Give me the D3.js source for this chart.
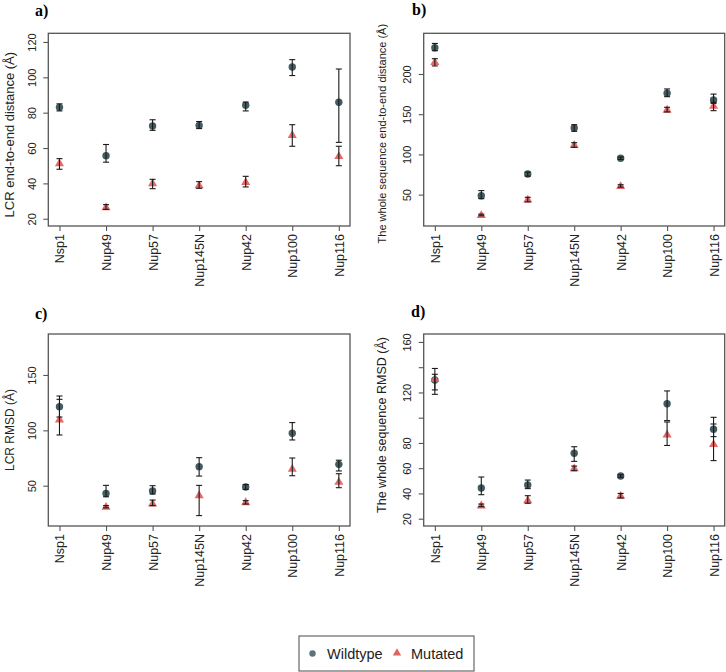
<!DOCTYPE html>
<html>
<head>
<meta charset="utf-8">
<script src="https://cdn.jsdelivr.net/npm/d3@7"></script>
<style>
  html, body { margin: 0; padding: 0; background: #fff; }
  svg { display: block; }
</style>
</head>
<body>
<svg id="chart" width="726" height="672"></svg>
<script>
const categories = ["Nsp1", "Nup49", "Nup57", "Nup145N", "Nup42", "Nup100", "Nup116"];

// Panel a) LCR end-to-end distance
const aWildMean = [83, 55.7, 72.5, 72.8, 84.2, 105.8, 85.9];
const aWildLow  = [81, 52, 70, 71, 81, 101, 63.2];
const aWildHigh = [85, 62, 76, 75, 86, 110, 104.7];
const aMutMean  = [51.5, 26.6, 40.2, 39, 40.8, 67.5, 55.5];
const aMutLow   = [48, 25.3, 37, 37.2, 38, 61, 50];
const aMutHigh  = [54, 28, 42.3, 41, 44, 73.2, 61];
const aTicks = [20, 40, 60, 80, 100, 120];

// Panel b) whole sequence end-to-end distance
const bWildMean = [232.7, 48.7, 75.7, 132.9, 95.2, 176, 167.7];
const bWildLow  = [229, 45, 73, 128.7, 93.7, 171.8, 163.5];
const bWildHigh = [238, 55, 78, 137, 96.7, 181.4, 175];
const bMutMean  = [215, 24.7, 44, 112, 60.8, 155.7, 160.6];
const bMutLow   = [210, 23.7, 41, 108.8, 59.3, 152.8, 154.4];
const bMutHigh  = [219, 25.7, 46.7, 114.6, 62.3, 158.6, 164.8];
const bTicks = [50, 100, 150, 200];

// Panel c) LCR RMSD
const cWildMean = [121.4, 43, 45.2, 67.2, 48.8, 97.3, 69.3];
const cWildLow  = [112, 40, 42.5, 58.7, 46.7, 91.3, 63.3];
const cWildHigh = [131, 50.3, 50, 75.3, 51, 107, 73];
const cMutMean  = [110, 31, 34, 41.6, 35.2, 65.4, 53.6];
const cMutLow   = [95.8, 30, 32, 23, 33.4, 59, 48.2];
const cMutHigh  = [128, 32, 37, 50.3, 36.5, 75, 60.8];
const cTicks = [50, 100, 150];

// Panel d) whole sequence RMSD
const dWildMean = [129.9, 44.3, 46.7, 71.8, 53.8, 111.1, 90.8];
const dWildLow  = [118.5, 39, 43.8, 65.4, 52.8, 97.7, 85];
const dWildHigh = [139, 53, 50.6, 77, 54.8, 121.2, 100.3];
const dMutMean  = [130.7, 30.6, 34.8, 60, 38.2, 86.8, 79.2];
const dMutLow   = [122, 29.5, 32.2, 58, 36.4, 78, 66];
const dMutHigh  = [134.4, 31.6, 38.2, 61.7, 40, 96.6, 95];
const dTicks = [20, 40, 60, 80, 100, 120, 140, 160];
const dTickLabels = [20, 40, 60, 80, 120, 160];

const seriesNames = ["Wildtype", "Mutated"];

const WILD_COLOR = "#3a5356";
const MUT_COLOR = "#e06262";
const AXIS_COLOR = "#555";

const svg = d3.select("#chart");

const panels = [
  { label: "a)", title: "LCR end-to-end distance (Å)", titleSize: 13,
    box: {x0: 48.3, x1: 350, y0: 33.3, y1: 226}, domain: [15.9, 124.9],
    ticks: aTicks, tickLabels: aTicks, labelPos: [35, 16], titleX: 14, titleDy: 5,
    wild: [aWildMean, aWildLow, aWildHigh], mut: [aMutMean, aMutLow, aMutHigh] },
  { label: "b)", title: "The whole sequence end-to-end distance (Å)", titleSize: 11,
    box: {x0: 423.7, x1: 724.7, y0: 33.3, y1: 226}, domain: [11, 250.6],
    ticks: bTicks, tickLabels: bTicks, labelPos: [412, 15], titleX: 386, titleDy: 4,
    wild: [bWildMean, bWildLow, bWildHigh], mut: [bMutMean, bMutLow, bMutHigh] },
  { label: "c)", title: "LCR RMSD (Å)", titleSize: 12,
    box: {x0: 48.3, x1: 350, y0: 334, y1: 526}, domain: [13.6, 187],
    ticks: cTicks, tickLabels: cTicks, labelPos: [35, 319], titleX: 14, titleDy: 0,
    wild: [cWildMean, cWildLow, cWildHigh], mut: [cMutMean, cMutLow, cMutHigh] },
  { label: "d)", title: "The whole sequence RMSD (Å)", titleSize: 12.5,
    box: {x0: 423.7, x1: 724.7, y0: 334, y1: 526}, domain: [14.2, 166.3],
    ticks: dTicks, tickLabels: dTickLabels, labelPos: [411, 317], titleX: 386, titleDy: -5,
    wild: [dWildMean, dWildLow, dWildHigh], mut: [dMutMean, dMutLow, dMutHigh] }
];

const triangle = d3.symbol().type(d3.symbolTriangle).size(36);

panels.forEach(p => {
  const b = p.box;
  // emulate R's 4% extension on x
  const xi = d3.scaleLinear().domain([-0.24, categories.length - 1 + 0.24]).range([b.x0, b.x1]);
  const xpos = c => xi(categories.indexOf(c));
  const y = d3.scaleLinear().domain(p.domain).range([b.y1, b.y0]);

  const g = svg.append("g");

  // panel label
  g.append("text")
    .attr("x", p.labelPos[0]).attr("y", p.labelPos[1])
    .attr("font-family", "Liberation Serif, Times New Roman, serif")
    .attr("font-weight", "bold").attr("font-size", 16)
    .text(p.label);

  // box
  g.append("rect")
    .attr("x", b.x0).attr("y", b.y0)
    .attr("width", b.x1 - b.x0).attr("height", b.y1 - b.y0)
    .attr("fill", "none").attr("stroke", AXIS_COLOR).attr("stroke-width", 1.3);

  // y axis
  const yAxis = d3.axisLeft(y).tickValues(p.ticks).tickSize(5).tickSizeOuter(0)
    .tickFormat(d => p.tickLabels.includes(d) ? d : "");
  const ya = g.append("g").attr("transform", `translate(${b.x0},0)`).call(yAxis);
  ya.select(".domain").remove();
  ya.selectAll(".tick line").attr("stroke", AXIS_COLOR).attr("stroke-width", 1.1);
  ya.selectAll(".tick text")
    .attr("font-family", "Liberation Sans, Arial, sans-serif")
    .attr("font-size", 11).attr("fill", "#222")
    .attr("text-anchor", "middle")
    .attr("x", null).attr("dy", null)
    .attr("transform", "translate(-12.5,0) rotate(-90)");

  // x axis
  const xAxis = d3.axisBottom(xi).tickValues(d3.range(categories.length))
    .tickSize(5).tickSizeOuter(0).tickFormat(i => categories[i]);
  const xa = g.append("g").attr("transform", `translate(0,${b.y1})`).call(xAxis);
  xa.select(".domain").remove();
  xa.selectAll(".tick line").attr("stroke", AXIS_COLOR).attr("stroke-width", 1.1);
  xa.selectAll(".tick text")
    .attr("font-family", "Liberation Sans, Arial, sans-serif")
    .attr("font-size", 12.5).attr("fill", "#222")
    .attr("text-anchor", "end")
    .attr("y", null).attr("dy", null)
    .attr("transform", "translate(4.5,8) rotate(-90)");

  // y title
  g.append("text")
    .attr("transform", `translate(${p.titleX},${(b.y0 + b.y1) / 2 + p.titleDy}) rotate(-90)`)
    .attr("text-anchor", "middle")
    .attr("font-family", "Liberation Sans, Arial, sans-serif")
    .attr("font-size", p.titleSize).attr("fill", "#222")
    .text(p.title);

  const wildData = categories.map((c, i) => ({c, m: p.wild[0][i], lo: p.wild[1][i], hi: p.wild[2][i]}));
  const mutData = categories.map((c, i) => ({c, m: p.mut[0][i], lo: p.mut[1][i], hi: p.mut[2][i]}));

  g.append("g").selectAll("circle").data(wildData).join("circle")
    .attr("cx", d => xpos(d.c)).attr("cy", d => y(d.m)).attr("r", 3.7)
    .attr("fill", WILD_COLOR).attr("fill-opacity", 0.95);

  g.append("g").selectAll("path").data(mutData).join("path")
    .attr("d", triangle)
    .attr("transform", d => `translate(${xpos(d.c)},${y(d.m) + 0.5})`)
    .attr("fill", MUT_COLOR).attr("fill-opacity", 0.95);

  // error bars on top
  const drawErr = (data) => {
    const eg = g.append("g").attr("stroke", "#1a1a1a").attr("stroke-width", 1.1).attr("fill", "none");
    const sel = eg.selectAll("g").data(data).join("g");
    sel.append("line")
      .attr("x1", d => xpos(d.c)).attr("x2", d => xpos(d.c))
      .attr("y1", d => y(d.lo)).attr("y2", d => y(d.hi));
    sel.append("line")
      .attr("x1", d => xpos(d.c) - 3).attr("x2", d => xpos(d.c) + 3)
      .attr("y1", d => y(d.lo)).attr("y2", d => y(d.lo));
    sel.append("line")
      .attr("x1", d => xpos(d.c) - 3).attr("x2", d => xpos(d.c) + 3)
      .attr("y1", d => y(d.hi)).attr("y2", d => y(d.hi));
  };
  drawErr(wildData);
  drawErr(mutData);
});

// legend
const lg = svg.append("g");
lg.append("rect").attr("x", 299).attr("y", 636).attr("width", 175).attr("height", 35)
  .attr("fill", "#fff").attr("stroke", "#666").attr("stroke-width", 1.2);
lg.append("circle").attr("cx", 312.5).attr("cy", 653.5).attr("r", 3.2).attr("fill", "#5a7577");
lg.append("text").attr("x", 327).attr("y", 658.5)
  .attr("font-family", "Liberation Sans, Arial, sans-serif").attr("font-size", 14.5).attr("fill", "#222")
  .text(seriesNames[0]);
lg.append("path").attr("d", d3.symbol().type(d3.symbolTriangle).size(30)())
  .attr("transform", "translate(397,653)").attr("fill", MUT_COLOR);
lg.append("text").attr("x", 411).attr("y", 658.5)
  .attr("font-family", "Liberation Sans, Arial, sans-serif").attr("font-size", 14.5).attr("fill", "#222")
  .text(seriesNames[1]);
</script>
</body>
</html>
